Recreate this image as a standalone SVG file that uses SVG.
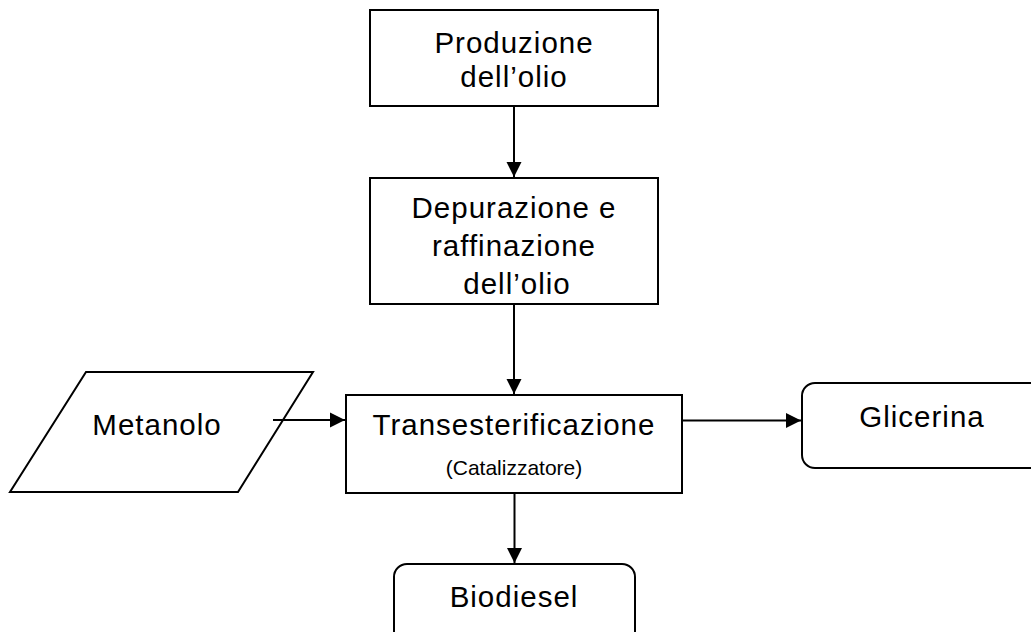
<svg xmlns="http://www.w3.org/2000/svg" width="1031" height="632" viewBox="0 0 1031 632">
<style>
.box{fill:#fff;stroke:#000;stroke-width:2}
.t{font-family:"Liberation Sans",Arial,sans-serif;font-size:29.5px;letter-spacing:1px;fill:#000;text-anchor:middle}
.s{font-family:"Liberation Sans",Arial,sans-serif;font-size:21px;fill:#000;text-anchor:middle}
.c{stroke:#000;stroke-width:2;fill:none;marker-end:url(#ah)}
</style>
<defs>
<marker id="ah" markerUnits="userSpaceOnUse" markerWidth="16" markerHeight="16" viewBox="0 0 16 16" refX="15" refY="8" orient="auto">
<path d="M0,0.5 L15,8 L0,15.5 Z" fill="#000"/>
</marker>
</defs>
<rect width="1031" height="632" fill="#fff"/>
<g id="produzione">
<rect class="box" x="370" y="10" width="288" height="96"/>
<text class="t" x="514" y="53">Produzione</text>
<text class="t" x="514" y="87">dell’olio</text>
</g>
<g id="depurazione">
<rect class="box" x="370" y="178" width="288" height="126"/>
<text class="t" x="514" y="218">Depurazione e</text>
<text class="t" x="514" y="256">raffinazione</text>
<text class="t" x="517" y="294">dell’olio</text>
</g>
<g id="metanolo">
<polygon class="box" points="86,372 313,372 238,492 10,492"/>
<text class="t" x="157" y="434.5">Metanolo</text>
</g>
<g id="transesterificazione">
<rect class="box" x="346" y="395" width="336" height="98"/>
<text class="t" x="514" y="435">Transesterificazione</text>
<text class="s" x="514" y="475">(Catalizzatore)</text>
</g>
<g id="glicerina">
<rect class="box" x="802" y="383" width="260" height="85" rx="13" ry="13"/>
<text class="t" x="922" y="427">Glicerina</text>
</g>
<g id="biodiesel">
<rect class="box" x="394" y="564" width="241" height="85" rx="13" ry="13"/>
<text class="t" x="514" y="607">Biodiesel</text>
</g>
<g id="connectors">
<line class="c" x1="514" y1="107" x2="514" y2="177"/>
<line class="c" x1="514" y1="305" x2="514" y2="394"/>
<line class="c" x1="273" y1="420" x2="345" y2="420"/>
<line class="c" x1="683" y1="420.5" x2="801" y2="420.5"/>
<line class="c" x1="514.5" y1="494" x2="514.5" y2="563"/>
</g>
</svg>
